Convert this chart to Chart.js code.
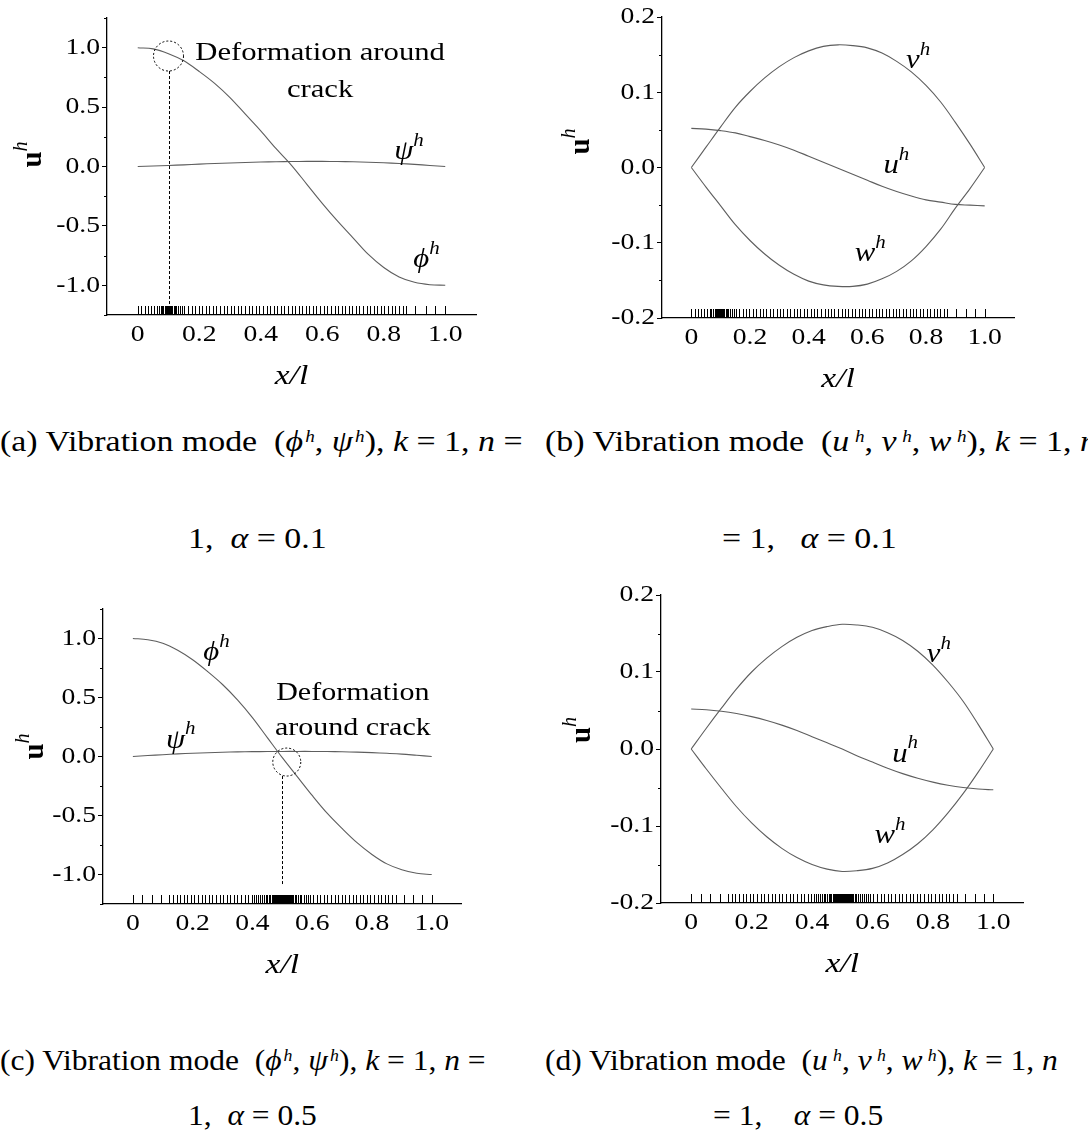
<!DOCTYPE html>
<html>
<head>
<meta charset="utf-8">
<script src="https://cdn.jsdelivr.net/npm/chart.js@4.4.1/dist/chart.umd.min.js"></script>
<style>
  html, body { margin: 0; padding: 0; background: #fff; }
  body { width: 1088px; height: 1140px; position: relative; overflow: hidden;
         font-family: "Liberation Serif", "Times New Roman", serif; color: #000; }
  canvas { position: absolute; }
  .cap { position: absolute; font-size: 30px; line-height: 30px; white-space: nowrap; transform-origin: 0 50%; }
  .cap i { font-style: italic; }
  .cap sup { font-size: 17px; font-style: italic; vertical-align: 0.55em; line-height: 0; margin-left: 2px; }
  .wide sup { margin-left: 5px; }
  .top { transform: scaleX(1.13); }
  .bot { transform: scaleX(1.05); }
</style>
</head>
<body>
<canvas id="pa" style="left:0;top:0" width="540" height="420"></canvas>
<canvas id="pb" style="left:540px;top:0" width="548" height="420"></canvas>
<canvas id="pc" style="left:0;top:580px" width="540" height="420"></canvas>
<canvas id="pd" style="left:540px;top:580px" width="548" height="420"></canvas>

<div class="cap top" style="left:0;top:426px">(a) Vibration mode&nbsp; (<i>ϕ</i><sup>h</sup>,&nbsp;<i>ψ</i><sup>h</sup>), <i>k</i> = 1, <i>n</i> =</div>
<div class="cap top" style="left:188px;top:523px">1,&nbsp; <i>α</i> = 0.1</div>
<div class="cap top wide" style="left:545px;top:426px">(b) Vibration mode&nbsp; (<i>u</i><sup>h</sup>,&nbsp;<i>v</i><sup>h</sup>,&nbsp;<i>w</i><sup>h</sup>), <i>k</i> = 1, <i>n</i></div>
<div class="cap top" style="left:722px;top:523px">= 1,&nbsp;&nbsp; <i>α</i> = 0.1</div>
<div class="cap bot" style="left:0;top:1045px">(c) Vibration mode&nbsp; (<i>ϕ</i><sup>h</sup>,&nbsp;<i>ψ</i><sup>h</sup>), <i>k</i> = 1, <i>n</i> =</div>
<div class="cap bot" style="left:188px;top:1100px">1,&nbsp; <i>α</i> = 0.5</div>
<div class="cap bot wide" style="left:545px;top:1045px">(d) Vibration mode&nbsp; (<i>u</i><sup>h</sup>,&nbsp;<i>v</i><sup>h</sup>,&nbsp;<i>w</i><sup>h</sup>), <i>k</i> = 1, <i>n</i></div>
<div class="cap bot" style="left:713px;top:1100px">= 1,&nbsp;&nbsp;&nbsp; <i>α</i> = 0.5</div>

<script>
// positions along the beam, x/l
const xs = [0, 0.05, 0.1, 0.15, 0.2, 0.25, 0.3, 0.35, 0.4, 0.45, 0.5, 0.55, 0.6, 0.65, 0.7, 0.75, 0.8, 0.85, 0.9, 0.95, 1.0];
const xTickVals = [0, 0.2, 0.4, 0.6, 0.8, 1.0];

// alpha = 0.1
const phiA01 = [1.0, 0.99, 0.95, 0.89, 0.80, 0.70, 0.58, 0.44, 0.30, 0.15, 0.01, -0.15, -0.31, -0.46, -0.60, -0.74, -0.85, -0.93, -0.975, -0.995, -1.0];
const psiA01 = [0, 0.004, 0.009, 0.014, 0.020, 0.025, 0.030, 0.034, 0.038, 0.040, 0.042, 0.043, 0.043, 0.042, 0.040, 0.036, 0.031, 0.025, 0.018, 0.009, 0];
const uA01 = [0.052, 0.051, 0.049, 0.046, 0.041, 0.036, 0.030, 0.023, 0.015, 0.007, -0.001, -0.009, -0.017, -0.025, -0.032, -0.038, -0.043, -0.046, -0.049, -0.050, -0.051];
const vA01 = [0, 0.027, 0.054, 0.080, 0.101, 0.119, 0.134, 0.146, 0.155, 0.161, 0.163, 0.162, 0.159, 0.152, 0.141, 0.127, 0.109, 0.087, 0.060, 0.031, 0];
const wA01 = [0, -0.026, -0.051, -0.076, -0.097, -0.115, -0.130, -0.142, -0.151, -0.156, -0.158, -0.158, -0.155, -0.148, -0.138, -0.124, -0.105, -0.082, -0.054, -0.028, 0];

// alpha = 0.5
const phiA05 = [1.0, 0.99, 0.96, 0.90, 0.82, 0.72, 0.61, 0.48, 0.33, 0.16, -0.01, -0.17, -0.33, -0.48, -0.61, -0.73, -0.83, -0.91, -0.96, -0.99, -1.0];
const psiA05 = [0, 0.008, 0.015, 0.022, 0.028, 0.032, 0.036, 0.039, 0.041, 0.042, 0.043, 0.043, 0.043, 0.042, 0.040, 0.037, 0.033, 0.027, 0.020, 0.010, 0];
const uA05 = [0.052, 0.051, 0.049, 0.046, 0.042, 0.037, 0.031, 0.024, 0.016, 0.008, 0.000, -0.009, -0.017, -0.025, -0.032, -0.038, -0.043, -0.047, -0.050, -0.052, -0.053];
const vA05 = [0, 0.027, 0.053, 0.078, 0.100, 0.118, 0.133, 0.145, 0.154, 0.159, 0.162, 0.161, 0.158, 0.151, 0.141, 0.127, 0.109, 0.087, 0.062, 0.032, 0];
const wA05 = [0, -0.026, -0.051, -0.075, -0.096, -0.114, -0.129, -0.141, -0.150, -0.156, -0.159, -0.158, -0.155, -0.148, -0.137, -0.123, -0.105, -0.083, -0.058, -0.030, 0];

// mesh nodes (rug along the x axis)
const nodesA01 = [0, 0.011, 0.022, 0.033, 0.043, 0.054, 0.062, 0.068, 0.074, 0.079, 0.083, 0.087, 0.089, 0.091, 0.093, 0.095, 0.097, 0.099, 0.101, 0.103, 0.105, 0.107, 0.109, 0.111, 0.113, 0.117, 0.121, 0.126, 0.132, 0.138, 0.145, 0.152, 0.163, 0.175, 0.186, 0.198, 0.209, 0.221, 0.233, 0.244, 0.256, 0.268, 0.279, 0.291, 0.302, 0.314, 0.326, 0.337, 0.349, 0.361, 0.372, 0.384, 0.395, 0.407, 0.419, 0.430, 0.442, 0.454, 0.465, 0.477, 0.488, 0.500, 0.512, 0.523, 0.535, 0.547, 0.558, 0.570, 0.581, 0.593, 0.605, 0.616, 0.628, 0.640, 0.651, 0.663, 0.674, 0.686, 0.698, 0.709, 0.721, 0.733, 0.744, 0.756, 0.767, 0.779, 0.791, 0.802, 0.814, 0.826, 0.837, 0.849, 0.861, 0.873, 0.903, 0.936, 0.968, 1.0];
const nodesA05 = [0, 0.031, 0.063, 0.094, 0.122, 0.134, 0.146, 0.158, 0.170, 0.182, 0.194, 0.206, 0.218, 0.230, 0.242, 0.254, 0.266, 0.278, 0.290, 0.302, 0.314, 0.326, 0.338, 0.350, 0.362, 0.374, 0.386, 0.398, 0.405, 0.412, 0.419, 0.426, 0.432, 0.438, 0.444, 0.450, 0.455, 0.460, 0.464, 0.468, 0.471, 0.474, 0.477, 0.480, 0.483, 0.486, 0.489, 0.492, 0.495, 0.498, 0.501, 0.504, 0.507, 0.510, 0.513, 0.516, 0.519, 0.522, 0.525, 0.528, 0.532, 0.536, 0.541, 0.546, 0.552, 0.558, 0.564, 0.571, 0.578, 0.585, 0.592, 0.603, 0.615, 0.627, 0.639, 0.651, 0.663, 0.675, 0.687, 0.699, 0.711, 0.723, 0.735, 0.747, 0.759, 0.771, 0.783, 0.795, 0.807, 0.819, 0.831, 0.843, 0.855, 0.867, 0.879, 0.906, 0.938, 0.969, 1.0];

const rotMajor = [-1.0, -0.5, 0, 0.5, 1.0];
const rotMinor = [-1.25, -0.75, -0.25, 0.25, 0.75, 1.25];
const dispMajor = [-0.2, -0.1, 0, 0.1, 0.2];
const dispMinor = [-0.15, -0.05, 0.05, 0.15];

const SERIF = '"Liberation Serif", "Times New Roman", serif';
const LINE = '#5e5e5e';

function rich(ctx, parts, x, y, align, sx) {
  let w = 0;
  const ws = parts.map(q => { ctx.font = q[1]; const m = ctx.measureText(q[0]).width; w += m; return m; });
  ctx.save();
  ctx.translate(x, y);
  ctx.scale(sx, 1);
  ctx.textAlign = 'left';
  let cx = align === 'center' ? -w / 2 : (align === 'right' ? -w : 0);
  parts.forEach((q, i) => { ctx.font = q[1]; ctx.fillText(q[0], cx, q[2] || 0); cx += ws[i]; });
  ctx.restore();
}

function sym(g, size) {
  size = size || 28;
  return [[g, 'italic ' + size + 'px ' + SERIF, 0], ['h', 'italic ' + Math.round(size * 0.68) + 'px ' + SERIF, -Math.round(size * 0.4)]];
}

function makeOverlay(p) {
  return {
    id: 'overlay',
    afterDatasetsDraw(chart) {
      const ctx = chart.ctx, sx = chart.scales.x, sy = chart.scales.y, a = chart.chartArea;
      ctx.save();
      ctx.strokeStyle = '#000';
      ctx.fillStyle = '#000';
      ctx.lineWidth = 1;

      // mesh rug
      ctx.beginPath();
      p.nodes.forEach(n => {
        const X = Math.round(sx.getPixelForValue(n)) + 0.5;
        ctx.moveTo(X, a.bottom);
        ctx.lineTo(X, a.bottom - 9);
      });
      ctx.stroke();

      // minor y ticks
      ctx.beginPath();
      p.yMinor.forEach(v => {
        const Y = Math.round(sy.getPixelForValue(v)) + 0.5;
        ctx.moveTo(a.left, Y);
        ctx.lineTo(a.left - 3, Y);
      });
      ctx.stroke();

      // crack marker
      if (p.crack) {
        const c = p.crack;
        const cx = sx.getPixelForValue(c.cx), cy = sy.getPixelForValue(c.cy);
        ctx.setLineDash([2, 2]);
        ctx.beginPath();
        ctx.arc(cx, cy, c.r, 0, Math.PI * 2);
        ctx.stroke();
        ctx.setLineDash([3, 2]);
        const lx = Math.round(sx.getPixelForValue(c.x)) + 0.5;
        ctx.beginPath();
        ctx.moveTo(lx, cy + c.r);
        ctx.lineTo(lx, a.bottom - c.gap);
        ctx.stroke();
        ctx.setLineDash([]);
      }

      // tick labels
      ctx.textBaseline = 'middle';
      const tf = p.tickFont + 'px ' + SERIF;
      p.yMajor.forEach(v => rich(ctx, [[v.toFixed(1), tf]], a.left - 7, sy.getPixelForValue(v), 'right', p.tsx));
      xTickVals.forEach(v => rich(ctx, [[v === 0 ? '0' : v.toFixed(1), tf]], sx.getPixelForValue(v), a.bottom + 20, 'center', p.tsx));

      // axis titles
      rich(ctx, [['x/l', 'italic 28px ' + SERIF]], (a.left + a.right) / 2, a.bottom + 62, 'center', 1.2);
      ctx.save();
      ctx.translate(a.left + p.yTitle[0], (a.top + a.bottom) / 2 + p.yTitle[1]);
      ctx.rotate(-Math.PI / 2);
      rich(ctx, [['u', 'bold 29px ' + SERIF, 0], ['h', 'italic 20px ' + SERIF, -12]], 0, 0, 'center', 1);
      ctx.restore();

      // curve labels and notes
      p.labels.forEach(l => rich(ctx, l.parts, sx.getPixelForValue(l.x), sy.getPixelForValue(l.y), 'center', l.sx || 1.1));
      ctx.restore();
    }
  };
}

function makeChart(p) {
  const el = document.getElementById(p.id);
  const W = el.width, H = el.height;
  new Chart(el, {
    type: 'line',
    data: {
      datasets: p.series.map(s => ({
        data: xs.map((x, i) => ({ x: x, y: s[i] })),
        borderColor: LINE,
        borderWidth: 1.1,
        pointRadius: 0,
        fill: false,
        tension: 0.35
      }))
    },
    options: {
      responsive: false,
      animation: false,
      events: [],
      layout: { padding: { left: 0, top: p.area[1], right: W - p.area[2], bottom: 0 } },
      plugins: { legend: { display: false }, tooltip: { enabled: false } },
      scales: {
        x: {
          type: 'linear', min: -0.1, max: 1.1,
          afterFit: s => { s.height = H - p.area[3]; },
          afterBuildTicks: s => { s.ticks = xTickVals.map(v => ({ value: v })); },
          grid: { display: true, drawOnChartArea: false, drawTicks: false },
          border: { color: '#000', width: 1.3 },
          ticks: { display: false }
        },
        y: {
          type: 'linear', min: p.yMin, max: p.yMax,
          afterFit: s => { s.width = p.area[0]; },
          afterBuildTicks: s => { s.ticks = p.yMajor.map(v => ({ value: v })); },
          grid: { display: true, drawOnChartArea: false, drawTicks: true, tickLength: 5, color: '#000', tickWidth: 1 },
          border: { color: '#000', width: 1.3 },
          ticks: { display: false }
        }
      }
    },
    plugins: [makeOverlay(p)]
  });
}

const panels = [
  {
    id: 'pa', area: [107, 18, 476, 315], yMin: -1.25, yMax: 1.25, yMajor: rotMajor, yMinor: rotMinor,
    series: [phiA01, psiA01], nodes: nodesA01, tickFont: 24, tsx: 1.15, yTitle: [-73, -12],
    crack: { x: 0.1, cx: 0.1, cy: 0.93, r: 15, gap: 8 },
    labels: [
      { x: 0.939, y: -0.787, parts: sym('ϕ') },
      { x: 0.882, y: 0.125, parts: sym('ψ') },
      { x: 0.593, y: 0.953, parts: [['Deformation around', '26px ' + SERIF]], sx: 1.18 },
      { x: 0.593, y: 0.644, parts: [['crack', '26px ' + SERIF]], sx: 1.18 }
    ]
  },
  {
    id: 'pb', area: [122, 17, 474, 318], yMin: -0.2, yMax: 0.2, yMajor: dispMajor, yMinor: dispMinor,
    series: [vA01, uA01, wA01], nodes: nodesA01, tickFont: 24, tsx: 1.15, yTitle: [-80, -26],
    labels: [
      { x: 0.773, y: 0.142, parts: sym('v') },
      { x: 0.699, y: 0.002, parts: sym('u') },
      { x: 0.61, y: -0.115, parts: sym('w') }
    ]
  },
  {
    id: 'pc', area: [103, 29, 461.6, 324], yMin: -1.25, yMax: 1.25, yMajor: rotMajor, yMinor: rotMinor,
    series: [phiA05, psiA05], nodes: nodesA05, tickFont: 24, tsx: 1.15, yTitle: [-67, -10],
    crack: { x: 0.5, cx: 0.515, cy: -0.047, r: 14, gap: 18 },
    labels: [
      { x: 0.28, y: 0.877, parts: sym('ϕ') },
      { x: 0.16, y: 0.136, parts: sym('ψ') },
      { x: 0.736, y: 0.538, parts: [['Deformation', '25px ' + SERIF]], sx: 1.2 },
      { x: 0.736, y: 0.241, parts: [['around crack', '25px ' + SERIF]], sx: 1.2 }
    ]
  },
  {
    id: 'pd', area: [121, 15, 483.5, 323], yMin: -0.2, yMax: 0.2, yMajor: dispMajor, yMinor: dispMinor,
    series: [vA05, uA05, wA05], nodes: nodesA05, tickFont: 24, tsx: 1.15, yTitle: [-78, -19],
    labels: [
      { x: 0.82, y: 0.122, parts: sym('v') },
      { x: 0.708, y: -0.007, parts: sym('u') },
      { x: 0.658, y: -0.113, parts: sym('w') }
    ]
  }
];

panels.forEach(makeChart);
</script>
</body>
</html>
